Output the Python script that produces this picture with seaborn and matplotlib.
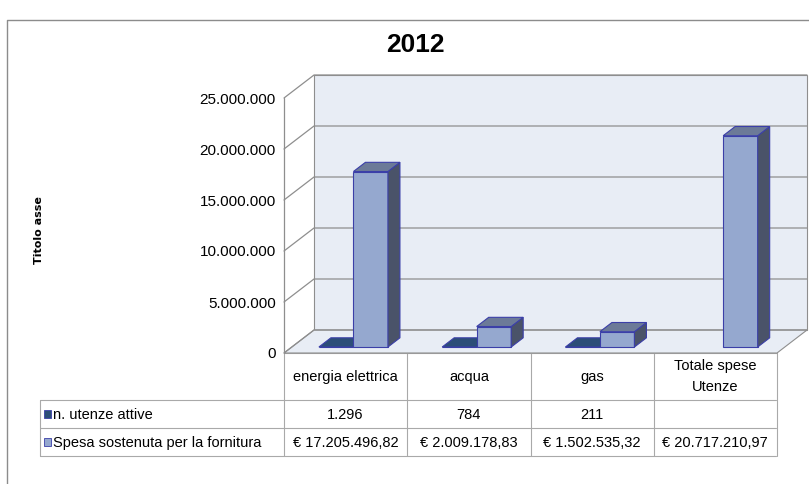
import numpy as np
import pandas as pd
import seaborn as sns
import matplotlib.pyplot as plt
from matplotlib.patches import Polygon, Rectangle
from matplotlib.transforms import blended_transform_factory

# data
categories = ["energia elettrica", "acqua", "gas", "Totale spese\nUtenze"]
series = ["n. utenze attive", "Spesa sostenuta per la fornitura"]
utenze = [1296, 784, 211, None]
spesa = [17205496.82, 2009178.83, 1502535.32, 20717210.97]
yticks = [0, 5000000, 10000000, 15000000, 20000000, 25000000]
title = "2012"
ytitle = "Titolo asse"


def it_num(v, dec=0):
    s = f"{v:,.{dec}f}"
    return s.replace(",", "X").replace(".", ",").replace("X", ".")


utenze_txt = [it_num(v) if v is not None else "" for v in utenze]
spesa_txt = ["€ " + it_num(v, 2) for v in spesa]

df = pd.DataFrame({
    "cat": categories * 2,
    "serie": [series[0]] * 4 + [series[1]] * 4,
    "valore": utenze + spesa,
}).dropna()

front_col = {series[0]: "#2c4e78", series[1]: "#95a8cf"}
side_col = {series[0]: "#1e3554", series[1]: "#4a5369"}
top_col = {series[0]: "#2c4e78", series[1]: "#6c7a98"}
edge = "#3b3fa8"
grid = "#8e8e8e"
wallc = "#e8edf5"

sns.set_style("white")
plt.rcParams["font.family"] = ["Liberation Sans", "DejaVu Sans"]
plt.rcParams["text.color"] = "black"
plt.rcParams["ytick.color"] = "black"
plt.rcParams["axes.labelcolor"] = "black"

W, H = 809, 484
fig = plt.figure(figsize=(W / 100, H / 100), dpi=100)
ov = fig.add_axes([0, 0, 1, 1])
ov.set_xlim(0, W)
ov.set_ylim(H, 0)
ov.set_axis_off()

# front plane of the plot
ax = fig.add_axes([284 / W, (H - 353) / H, 493 / W, 255 / H])
ax.patch.set_alpha(0)

sns.barplot(data=df, x="cat", y="valore", hue="serie", order=categories,
            hue_order=series, palette=front_col, width=0.56, errorbar=None,
            saturation=1, legend=False, edgecolor=edge, linewidth=0.8, ax=ax)

x0, x1 = -0.5, 3.5
ymax = yticks[-1]
ax.set_xlim(x0, x1)
ax.set_ylim(0, ymax)

# depth of the 3d box, px -> data units
DX = 30 * (x1 - x0) / 493
DY = 23 * ymax / 255

# back wall and floor
ax.add_patch(Polygon([(x0 + DX, DY), (x1 + DX, DY), (x1 + DX, ymax + DY), (x0 + DX, ymax + DY)],
                     closed=True, fc=wallc, ec=grid, lw=0.8, clip_on=False, zorder=0))
ax.add_patch(Polygon([(x0, 0), (x1, 0), (x1 + DX, DY), (x0 + DX, DY)],
                     closed=True, fc=wallc, ec=grid, lw=0.8, clip_on=False, zorder=0))
for t in yticks:
    ax.plot([x0, x0 + DX, x1 + DX], [t, t + DY, t + DY], color=grid, lw=0.9,
            clip_on=False, zorder=1)
ax.plot([x0, x0], [0, ymax], color=grid, lw=0.9, clip_on=False, zorder=1)

# 3d bars from the seaborn rectangles
f0, f1 = 0.26, 0.66
for i, cont in enumerate(ax.containers):
    s = series[i]
    z = 3 + i
    for bar in cont:
        bx, bw, bh = bar.get_x(), bar.get_width(), bar.get_height()
        if np.isnan(bh):
            bar.set_visible(False)
            continue
        bx0, bx1 = bx + f0 * DX, bx + bw + f0 * DX
        by = f0 * DY
        bar.set_x(bx0)
        bar.set_y(by)
        bar.set_zorder(z)
        bar.set_clip_on(False)
        ax.add_patch(Polygon([(bx1, by), (bx + bw + f1 * DX, f1 * DY),
                              (bx + bw + f1 * DX, bh + f1 * DY), (bx1, bh + by)],
                             closed=True, fc=side_col[s], ec=edge, lw=0.8,
                             clip_on=False, zorder=z))
        ax.add_patch(Polygon([(bx0, bh + by), (bx1, bh + by),
                              (bx + bw + f1 * DX, bh + f1 * DY), (bx + f1 * DX, bh + f1 * DY)],
                             closed=True, fc=top_col[s], ec=edge, lw=0.8,
                             clip_on=False, zorder=z))

ax.set_yticks(yticks)
ax.set_yticklabels([it_num(v) for v in yticks])
ax.tick_params(axis="y", length=0, pad=6, labelsize=11)
ax.tick_params(axis="x", bottom=False, labelbottom=False)
ax.set_xlabel("")
ax.set_ylabel(ytitle, fontsize=8, fontweight="bold", family="DejaVu Sans")
ax.yaxis.set_label_coords(-0.487, 0.482)
for sp in ax.spines.values():
    sp.set_visible(False)

# data table
bt = blended_transform_factory(ax.transData, ov.transData)
tab = "#a9a9a9"
TOP, HDR, R1, R2 = 353, 400, 428, 456
for k in range(len(categories) + 1):
    ov.plot([k - 0.5, k - 0.5], [TOP, R2], color=tab, lw=0.8, transform=bt)
ov.plot([x0, x1], [TOP, TOP], color=tab, lw=0.8, transform=bt)
for yy in (HDR, R1, R2):
    ov.plot([40, 776], [yy, yy], color=tab, lw=0.8)
ov.plot([40, 40], [HDR, R2], color=tab, lw=0.8)

for k, c in enumerate(categories):
    ov.text(k, (TOP + HDR) / 2, c, transform=bt, ha="center", va="center",
            fontsize=10.5, linespacing=1.55)
    ov.text(k, (HDR + R1) / 2 + 1, utenze_txt[k], transform=bt, ha="center",
            va="center", fontsize=10.5)
    ov.text(k, (R1 + R2) / 2 + 1, spesa_txt[k], transform=bt, ha="center",
            va="center", fontsize=10.5)

for s, yc in zip(series, [(HDR + R1) / 2, (R1 + R2) / 2]):
    ov.add_patch(Rectangle((44, yc - 4), 7, 8, fc=front_col[s], ec=edge, lw=0.6))
    ov.text(53, yc + 1, s, ha="left", va="center", fontsize=10.5)

ov.text(415, 45, title, ha="center", va="center", fontsize=19, fontweight="bold")

# chart border
ov.plot([7, 7, W], [H, 20, 20], color="#8c8c8c", lw=1)

fig.savefig("out.png", dpi=100)
